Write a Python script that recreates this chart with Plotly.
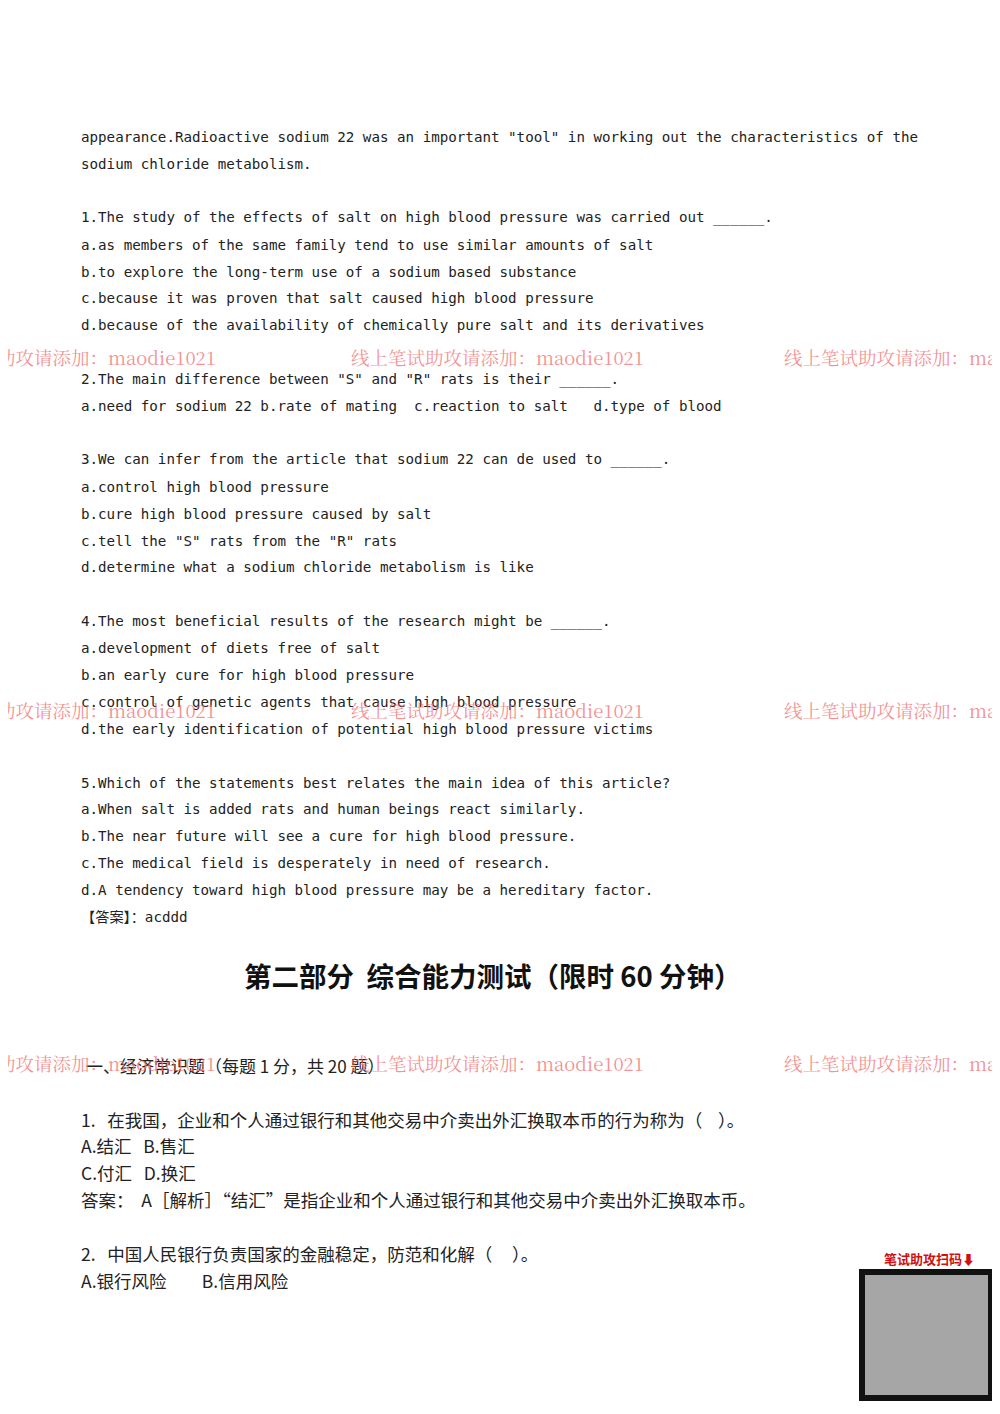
import plotly.graph_objects as go

en_lines = [
    'appearance.Radioactive sodium 22 was an important "tool" in working out the characteristics of the',
    'sodium chloride metabolism.',
    '',
    '1.The study of the effects of salt on high blood pressure was carried out ______.',
    'a.as members of the same family tend to use similar amounts of salt',
    'b.to explore the long-term use of a sodium based substance',
    'c.because it was proven that salt caused high blood pressure',
    'd.because of the availability of chemically pure salt and its derivatives',
    '',
    '2.The main difference between "S" and "R" rats is their ______.',
    'a.need for sodium 22 b.rate of mating  c.reaction to salt   d.type of blood',
    '',
    '3.We can infer from the article that sodium 22 can de used to ______.',
    'a.control high blood pressure',
    'b.cure high blood pressure caused by salt',
    'c.tell the "S" rats from the "R" rats',
    'd.determine what a sodium chloride metabolism is like',
    '',
    '4.The most beneficial results of the research might be ______.',
    'a.development of diets free of salt',
    'b.an early cure for high blood pressure',
    'c.control of genetic agents that cause high blood pressure',
    'd.the early identification of potential high blood pressure victims',
    '',
    '5.Which of the statements best relates the main idea of this article?',
    'a.When salt is added rats and human beings react similarly.',
    'b.The near future will see a cure for high blood pressure.',
    'c.The medical field is desperately in need of research.',
    'd.A tendency toward high blood pressure may be a hereditary factor.',
    '【答案】：acddd',
]
heading = '第二部分  综合能力测试（限时 60 分钟）'
section = '一、经济常识题（每题 1 分，共 20 题）'
cn_lines = [
    '1.   在我国，企业和个人通过银行和其他交易中介卖出外汇换取本币的行为称为（    ）。',
    'A.结汇   B.售汇',
    'C.付汇   D.换汇',
    '答案：  A［解析］“结汇”是指企业和个人通过银行和其他交易中介卖出外汇换取本币。',
    '',
    '2.   中国人民银行负责国家的金融稳定，防范和化解（     ）。',
    'A.银行风险         B.信用风险',
]
watermark = '线上笔试助攻请添加：maodie1021'
wm_rows = [357, 710, 1063]

W, H = 1000, 1414
DX, DY = 9, 8
ann = []
def add(x, y, t, size, family, color='#222', bold=False, anchor='left'):
    ann.append(dict(x=(x - DX) / W, y=1 - (y - DY) / H, xref='paper', yref='paper',
                    text=('<b>%s</b>' % t) if bold else t,
                    showarrow=False, xanchor=anchor, yanchor='middle',
                    font=dict(size=size, family=family, color=color)))

mono = 'DejaVu Sans Mono, Noto Sans CJK SC'
for i, t in enumerate(en_lines):
    if t:
        add(80, 137 + i * 26.9, t, 14.2, mono)
add(493, 975, heading, 27.5, 'Noto Sans CJK SC', '#111', bold=True, anchor='center')
add(85, 1065, section, 17, 'Noto Sans CJK SC')
for i, t in enumerate(cn_lines):
    if t:
        add(80, 1119 + i * 26.9, t, 17.5, 'Noto Sans CJK SC')
for y in wm_rows:
    for x in [-78, 350, 783]:
        add(x, y, watermark, 18.5, 'Noto Serif CJK SC, Noto Sans CJK SC', 'rgba(240,110,110,0.75)')
add(930, 1258, '笔试助攻扫码⬇', 13, 'Noto Sans CJK SC', '#d01010', bold=True, anchor='center')

fig = go.Figure()
fig.update_layout(width=W, height=H, margin=dict(l=0, r=0, t=0, b=0),
                  paper_bgcolor='white', plot_bgcolor='white',
                  xaxis=dict(visible=False, range=[0, 1]), yaxis=dict(visible=False, range=[0, 1]),
                  annotations=ann,
                  shapes=[dict(type='rect', xref='paper', yref='paper', x0=(863 - DX) / W, x1=(992 - DX) / W,
                               y0=1 - (1398 - DY) / H, y1=1 - (1272 - DY) / H, line=dict(color='#111', width=6),
                               fillcolor='rgba(0,0,0,0.35)')])
fig.write_html('out.html')
